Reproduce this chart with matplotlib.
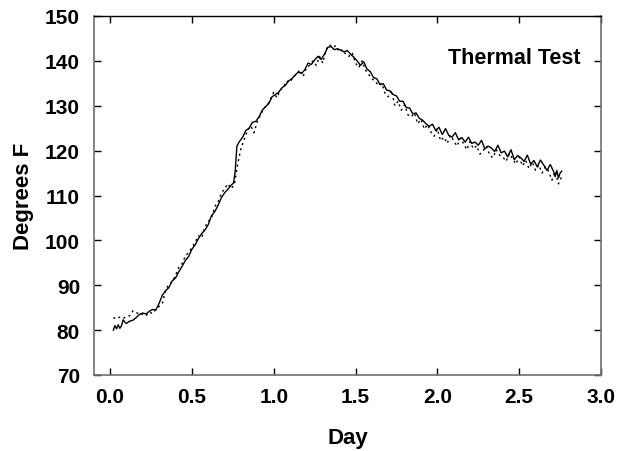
import matplotlib
matplotlib.use("Agg")
import matplotlib.pyplot as plt

plt.rcParams['font.family'] = ['Liberation Sans', 'DejaVu Sans']
plt.rcParams['font.weight'] = 'bold'

day_solid = [
    0.02, 0.03, 0.04, 0.05, 0.06, 0.07, 0.08, 0.09, 0.10, 0.12,
    0.14, 0.16, 0.18, 0.20, 0.22, 0.24, 0.26, 0.28, 0.30, 0.32,
    0.34, 0.36, 0.38, 0.40, 0.42, 0.44, 0.46, 0.48, 0.50, 0.52,
    0.54, 0.56, 0.58, 0.60, 0.62, 0.64, 0.66, 0.68, 0.70, 0.72,
    0.74, 0.755, 0.765, 0.775, 0.79, 0.81, 0.83, 0.85, 0.87, 0.89,
    0.91, 0.93, 0.95, 0.97, 0.99, 1.01, 1.03, 1.05, 1.07, 1.09,
    1.11, 1.13, 1.15, 1.17, 1.19, 1.21, 1.23, 1.25, 1.27, 1.29,
    1.31, 1.33, 1.35, 1.37, 1.39, 1.41, 1.43, 1.45, 1.47, 1.49,
    1.51, 1.53, 1.55, 1.57, 1.59, 1.61, 1.63, 1.65, 1.67, 1.69,
    1.71, 1.73, 1.75, 1.77, 1.79, 1.81, 1.83, 1.85, 1.87, 1.89,
    1.91, 1.93, 1.95, 1.97, 1.99, 2.01, 2.03, 2.05, 2.07, 2.09,
    2.11, 2.13, 2.15, 2.17, 2.19, 2.21, 2.23, 2.25, 2.27, 2.29,
    2.31, 2.33, 2.35, 2.37, 2.39, 2.41, 2.43, 2.45, 2.47, 2.49,
    2.51, 2.53, 2.55, 2.57, 2.59, 2.61, 2.63, 2.65, 2.67, 2.69,
    2.71, 2.72, 2.73, 2.74, 2.75, 2.76,
]
temp_solid = [
    80.0, 81.0, 80.3, 81.2, 80.4, 81.0, 82.3, 81.8, 81.5, 82.0,
    82.2, 82.8, 83.5, 83.8, 83.6, 84.2, 84.6, 84.5, 86.0, 87.8,
    88.8, 89.5, 91.0, 91.6, 93.0, 94.2, 95.5, 96.4, 98.0, 99.0,
    100.4, 101.5, 102.3, 103.5, 105.5, 106.4, 107.8, 109.5, 110.6, 111.4,
    112.3, 112.8, 115.5, 121.0, 122.0, 123.0, 124.5, 125.0, 126.3, 126.5,
    127.5, 129.0, 129.8, 130.5, 132.0, 132.5, 133.0, 134.0, 134.5, 135.5,
    136.0, 136.8, 137.5, 137.2, 138.0, 139.5, 139.2, 140.2, 141.0, 140.3,
    141.5, 143.0, 143.2, 142.5, 142.7, 142.4, 142.0, 142.3, 141.5, 140.8,
    140.0, 139.0, 139.8, 138.2, 137.6, 136.3, 136.0, 134.7, 134.9, 133.5,
    133.3, 132.5, 132.2, 131.0, 131.0, 129.6, 129.5, 128.2, 128.4, 127.2,
    126.8, 126.0, 125.4, 125.9, 124.5, 125.2, 123.6, 124.9, 123.4, 123.0,
    124.0, 122.4, 122.9, 121.9, 123.0, 121.6, 121.9, 121.2, 122.3, 120.4,
    121.0, 120.6, 119.8, 121.2, 119.5, 119.9, 118.6, 120.2, 118.0, 118.9,
    118.4, 117.6, 119.0, 117.0, 117.8, 116.4, 117.9, 116.8, 115.6, 116.9,
    115.4, 114.2, 115.6, 113.9, 115.0, 115.4,
]

day_dotted = [
    0.02, 0.04, 0.06, 0.08, 0.10, 0.12, 0.14, 0.16, 0.18, 0.20,
    0.22, 0.24, 0.26, 0.28, 0.30, 0.32, 0.34, 0.36, 0.38, 0.40,
    0.42, 0.44, 0.46, 0.48, 0.50, 0.52, 0.54, 0.56, 0.58, 0.60,
    0.62, 0.64, 0.66, 0.68, 0.70, 0.72, 0.74, 0.76, 0.78, 0.80,
    0.82, 0.84, 0.86, 0.88, 0.90, 0.92, 0.94, 0.96, 0.98, 1.00,
    1.02, 1.04, 1.06, 1.08, 1.10, 1.12, 1.14, 1.16, 1.18, 1.20,
    1.22, 1.24, 1.26, 1.28, 1.30, 1.32, 1.34, 1.36, 1.38, 1.40,
    1.42, 1.44, 1.46, 1.48, 1.50, 1.52, 1.54, 1.56, 1.58, 1.60,
    1.62, 1.64, 1.66, 1.68, 1.70, 1.72, 1.74, 1.76, 1.78, 1.80,
    1.82, 1.84, 1.86, 1.88, 1.90, 1.92, 1.94, 1.96, 1.98, 2.00,
    2.02, 2.04, 2.06, 2.08, 2.10, 2.12, 2.14, 2.16, 2.18, 2.20,
    2.22, 2.24, 2.26, 2.28, 2.30, 2.32, 2.34, 2.36, 2.38, 2.40,
    2.42, 2.44, 2.46, 2.48, 2.50, 2.52, 2.54, 2.56, 2.58, 2.60,
    2.62, 2.64, 2.66, 2.68, 2.70, 2.72, 2.74, 2.76,
]
temp_dotted = [
    82.8, 82.5, 82.9, 82.6, 83.0, 83.2, 84.3, 84.0, 83.4, 83.6,
    83.2, 84.0, 83.7, 84.6, 85.3, 86.0, 89.0, 90.2, 90.8, 92.2,
    94.0, 94.8, 96.5, 97.3, 98.4, 99.6, 101.0, 100.5, 103.0, 104.2,
    105.0, 107.5, 108.6, 110.5, 111.5, 112.6, 111.5, 112.5, 117.0, 120.5,
    122.5, 124.5, 125.5, 124.0, 126.5, 128.0, 129.5, 130.0, 131.5, 133.0,
    131.8, 133.5, 134.2, 135.5, 135.2, 136.5, 137.0, 138.0, 136.5, 138.5,
    139.0, 140.0, 139.0, 141.0, 139.5, 142.5, 143.6, 143.0, 143.4, 142.0,
    142.5, 141.5, 141.0, 141.8, 139.5, 138.5, 140.0, 138.0, 137.0, 136.0,
    135.5, 134.5, 135.0, 132.8, 132.0, 133.5, 130.0, 131.0, 129.0, 130.2,
    128.0, 127.5, 128.4, 126.0, 127.0, 124.8, 125.8, 124.2, 123.2, 124.8,
    122.2, 123.0, 121.6, 123.4, 122.2, 121.0, 122.8, 121.6, 120.2, 122.0,
    120.4, 121.1, 119.2, 120.0, 121.0, 119.0, 118.4, 120.2, 119.0, 118.6,
    117.6, 119.4, 118.2, 117.0, 118.6, 116.6, 117.8, 116.0, 117.4, 115.6,
    116.8, 115.0, 116.4, 115.4, 113.4, 115.4, 112.6, 114.2,
]

x_ticks = [0.0, 0.5, 1.0, 1.5, 2.0, 2.5, 3.0]
y_ticks = [70, 80, 90, 100, 110, 120, 130, 140, 150]

fig = plt.figure(figsize=(6.44, 4.52), dpi=100)
ax = fig.add_axes([94 / 644, 1 - 376 / 452, 507 / 644, 359 / 452])

ax.plot(day_dotted, temp_dotted, color='black', linewidth=1.0,
        linestyle=(0, (1.5, 2.5)))
ax.plot(day_solid, temp_solid, color='black', linewidth=1.0)

ax.set_xlim(-0.098, 3.0)
ax.set_ylim(70, 150)
ax.set_xticks(x_ticks)
ax.set_xticklabels([f"{v:.1f}" for v in x_ticks])
ax.set_yticks(y_ticks)

ax.tick_params(axis='x', direction='in', top=True, bottom=True, length=5,
               width=1, pad=9, labelsize=15, color='black')
ax.tick_params(axis='y', direction='in', left=True, right=True, length=5,
               width=1, pad=10, labelsize=15, color='black')
for lbl in ax.get_xticklabels() + ax.get_yticklabels():
    lbl.set_fontweight('bold')

for side in ['left', 'bottom', 'right']:
    ax.spines[side].set_color('#707070')
    ax.spines[side].set_linewidth(1.2)
ax.spines['top'].set_color('black')
ax.spines['top'].set_linewidth(1.0)

ax.set_xlabel('Day', fontsize=16, fontweight='bold', labelpad=15)
ax.set_ylabel('Degrees F', fontsize=16, fontweight='bold', labelpad=8)

ax.text(0.96, 0.885, 'Thermal Test', transform=ax.transAxes, ha='right',
        va='center', fontsize=15.5, fontweight='bold')

fig.savefig('out.png', dpi=100)
